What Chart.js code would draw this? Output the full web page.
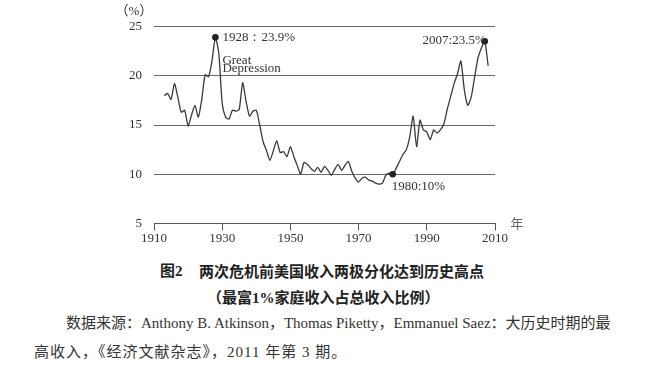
<!DOCTYPE html>
<html>
<head>
<meta charset="utf-8">
<script src="https://cdn.jsdelivr.net/npm/chart.js@4"></script>
<style>
  html, body { margin: 0; padding: 0; background: #fff; }
  body { width: 650px; height: 371px; position: relative; overflow: hidden; }
  #wrap { position: absolute; left: 0; top: 0; width: 650px; height: 250px; }
  .t { position: absolute; white-space: pre; color: #222; }
  .cap { font-family: "Liberation Serif", "Noto Sans CJK SC", serif; }
</style>
</head>
<body>
<div id="wrap"><canvas id="c" width="650" height="250"></canvas></div>
<div class="t cap" style="left:160px; top:262px; font-size:15px; line-height:18px; font-weight:bold;">图2</div>
<div class="t cap" style="left:199px; top:262px; font-size:15px; line-height:18px; font-weight:bold; font-family:'Noto Sans CJK SC';">两次危机前美国收入两极分化达到历史高点</div>
<div class="t cap" style="left:207px; top:289px; font-size:15px; line-height:18px; font-weight:bold;">（最富1%家庭收入占总收入比例）</div>
<div class="t cap" style="left:66px; top:314px; font-size:15px; line-height:18px; color:#333;">数据来源：Anthony B. Atkinson，Thomas Piketty，Emmanuel Saez：大历史时期的最</div>
<div class="t cap" style="left:34px; top:343px; font-size:15px; line-height:18px; color:#333; letter-spacing:1px;">高收入，《经济文献杂志》，2011 年第 3 期。</div>
<script>
// ---- data ----
const years = [1913,1914,1915,1916,1917,1918,1919,1920,1921,1922,1923,1924,1925,1926,1927,1928,1929,1930,
  1931,1932,1933,1934,1935,1936,1937,1938,1939,1940,1941,1942,1943,1944,1945,1946,1947,1948,1949,1950,
  1951,1952,1953,1954,1955,1956,1957,1958,1959,1960,1961,1962,1963,1964,1965,1966,1967,1968,1969,1970,
  1971,1972,1973,1974,1975,1976,1977,1978,1979,1980,1981,1982,1983,1984,1985,1986,1987,1988,1989,1990,
  1991,1992,1993,1994,1995,1996,1997,1998,1999,2000,2001,2002,2003,2004,2005,2006,2007,2008];
const top1Share = [18.0,18.2,17.6,19.2,17.8,16.3,16.5,14.9,16.0,17.0,15.8,17.6,20.1,19.9,21.5,23.9,22.3,17.2,
  15.8,15.6,16.5,16.4,16.6,19.3,17.4,15.9,16.4,16.5,15.0,13.3,12.4,11.4,12.4,13.4,12.2,12.3,11.8,12.8,
  11.8,10.9,10.0,11.2,11.0,10.6,10.3,10.7,10.2,10.8,10.4,9.9,10.5,11.0,10.4,10.9,11.3,10.3,9.6,9.2,
  9.6,9.7,9.4,9.3,9.1,9.0,9.1,9.9,10.1,10.0,10.6,11.3,12.0,12.5,13.8,15.9,12.8,15.5,14.5,14.3,
  13.5,14.5,14.2,14.5,15.1,16.6,17.9,19.2,20.2,21.5,18.6,17.0,17.8,19.8,21.8,22.8,23.5,21.0];
const yTicks = [5,10,15,20,25];
const xTicks = [1910,1930,1950,1970,1990,2010];
const markedYears = [1928,1980,2007];
const markLabels = ["1928：23.9%","1980:10%","2007:23.5%"];
const greatDepression = ["Great","Depression"];
const yUnit = "（%）";
const xUnit = "年";

const pts = years.map((y,i)=>({x:y, y:top1Share[i]}));
const radii = years.map(y => markedYears.includes(y) ? 3.3 : 0);

const SERIF = '"Liberation Serif", "Times New Roman", serif';

const annot = {
  id: 'annot',
  afterDatasetsDraw(chart) {
    const {ctx, scales:{x, y}} = chart;
    ctx.save();
    ctx.fillStyle = '#333';
    ctx.font = '13px ' + SERIF;
    ctx.textBaseline = 'middle';
    const val = yr => top1Share[years.indexOf(yr)];
    // 1928
    let px = x.getPixelForValue(1928), py = y.getPixelForValue(val(1928));
    ctx.textAlign = 'left';
    ctx.fillText(markLabels[0], px + 7, py);
    // Great Depression
    ctx.fillText(greatDepression[0], px + 7, py + 23);
    ctx.fillText(greatDepression[1], px + 7, py + 31);
    // 1980
    px = x.getPixelForValue(1980); py = y.getPixelForValue(val(1980));
    ctx.fillText(markLabels[1], px - 1, py + 12);
    // 2007
    px = x.getPixelForValue(2007); py = y.getPixelForValue(val(2007));
    ctx.textAlign = 'right';
    ctx.fillText(markLabels[2], px + 1, py - 1);
    // units
    ctx.textAlign = 'center';
    ctx.font = '13px ' + SERIF + ', "Noto Sans CJK SC"';
    ctx.fillText(yUnit, 134, 12);
    ctx.fillStyle = '#666';
    ctx.font = '13px "Noto Sans CJK SC"';
    ctx.fillText(xUnit, 517, 223);
    ctx.restore();
  }
};

new Chart(document.getElementById('c'), {
  type: 'line',
  data: {
    datasets: [{
      data: pts,
      borderColor: '#3a3a3a',
      borderWidth: 1.3,
      tension: 0.2,
      pointRadius: radii,
      pointBackgroundColor: '#222',
      pointBorderColor: '#222',
      pointBorderWidth: 0,
      fill: false
    }]
  },
  options: {
    responsive: false,
    animation: false,
    events: [],
    layout: { padding: { left: 0, right: 155, top: 26.5, bottom: 0 } },
    plugins: { legend: { display: false }, tooltip: { enabled: false } },
    scales: {
      x: {
        type: 'linear',
        min: 1910, max: 2010,
        afterBuildTicks: s => { s.ticks = xTicks.map(v => ({value: v})); },
        afterFit: s => { s.height = 26.5; },
        border: { display: true, color: '#555', width: 1 },
        grid: { drawOnChartArea: false, drawTicks: true, tickLength: 7, color: '#555', lineWidth: 1 },
        ticks: { color: '#333', font: { family: SERIF, size: 13 }, padding: 0, maxRotation: 0, autoSkip: false,
                 callback: v => String(v) }
      },
      y: {
        min: 5, max: 25,
        afterBuildTicks: s => { s.ticks = yTicks.map(v => ({value: v})); },
        afterFit: s => { s.width = 154; },
        border: { display: false },
        grid: {
          drawTicks: false,
          color: c => c.tick && c.tick.value === 5 ? 'rgba(0,0,0,0)' : '#6a6a6a',
          lineWidth: 1
        },
        ticks: { color: '#333', font: { family: SERIF, size: 13 }, padding: 12, callback: v => String(v) }
      }
    }
  },
  plugins: [annot]
});
</script>
</body>
</html>
